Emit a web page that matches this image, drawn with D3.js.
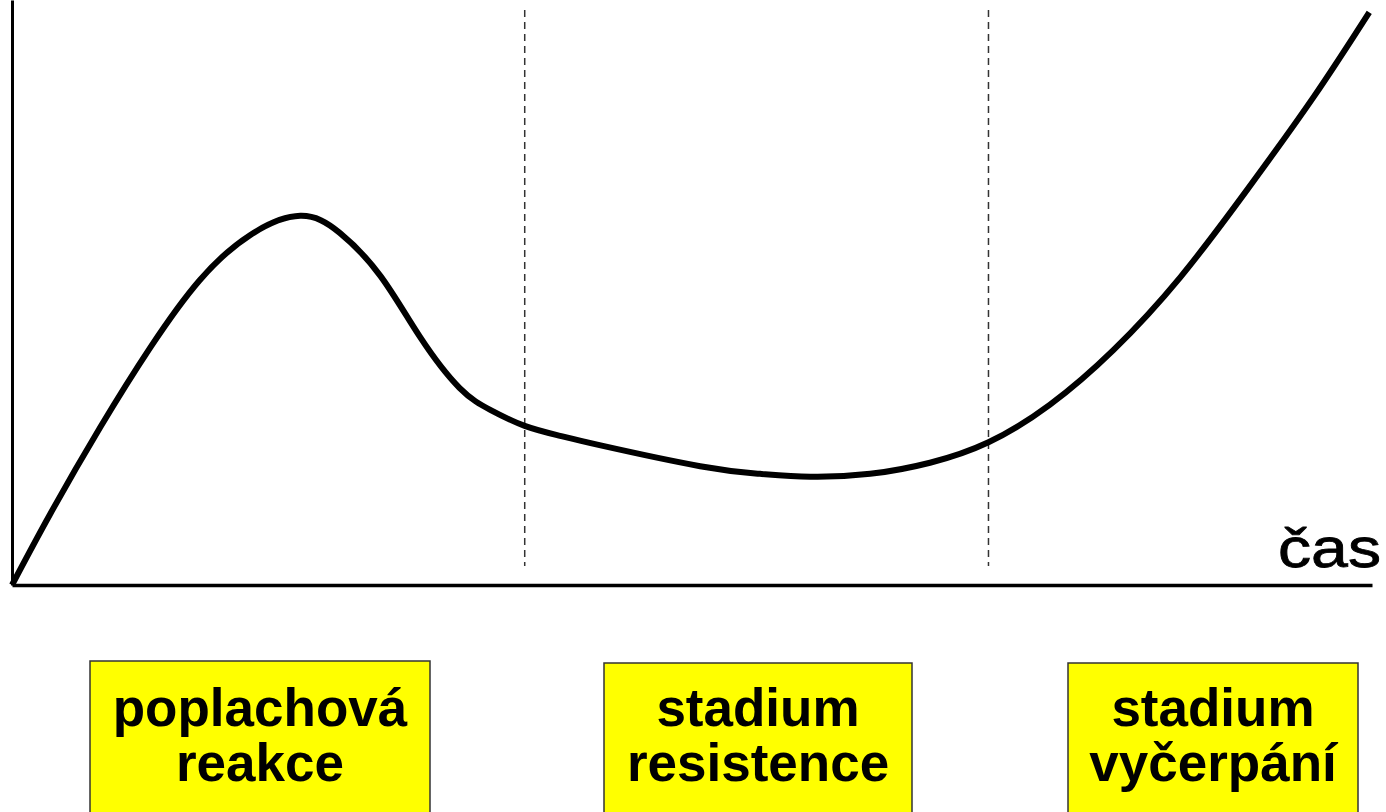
<!DOCTYPE html>
<html>
<head>
<meta charset="utf-8">
<script src="https://d3js.org/d3.v7.min.js"></script>
<style>
  html, body { margin: 0; padding: 0; background: #fff; overflow: hidden; }
  svg { display: block; }
</style>
</head>
<body>
<svg id="chart" width="1386" height="812"></svg>
<script>
// curve samples: time (0-100) and stress level (0-100)
var time  = [0, 2.8, 6.5, 10.2, 13.8, 17.5, 21.2, 24.1, 27.1, 30.0, 32.9, 35.2, 37.7,
             40.3, 43.2, 50.6, 55.0, 58.7, 63.1, 67.5, 71.8, 76.3, 81.0, 85.9, 90.8, 95.7, 99.8];
var level = [0, 12.1, 27.0, 40.7, 52.1, 59.8, 63.1, 60.2, 52.8, 42.4, 33.7, 29.9, 27.2,
             25.5, 23.9, 20.3, 19.0, 18.5, 19.0, 20.9, 24.4, 30.8, 40.2, 52.6, 67.5, 83.4, 97.9];

// phase boundaries (dashed lines)
var boundaries = [37.7, 71.8];

// phase labels, two lines each
var phases = [
  ["poplachová", "reakce"],
  ["stadium", "resistence"],
  ["stadium", "vyčerpání"]
];
var axisLabel = "čas";

var svg = d3.select("#chart");

var x = d3.scaleLinear().domain([0, 100]).range([12, 1372]);
var y = d3.scaleLinear().domain([0, 100]).range([585, 0]);

// axes, no ticks
svg.append("g")
    .attr("transform", "translate(0,585)")
    .call(d3.axisBottom(x).ticks(0).tickSize(0).tickSizeOuter(0))
    .select(".domain").attr("stroke", "#000").attr("stroke-width", 3.5);

svg.append("g")
    .attr("transform", "translate(12,0)")
    .call(d3.axisLeft(y).ticks(0).tickSize(0).tickSizeOuter(0))
    .select(".domain").attr("stroke", "#000").attr("stroke-width", 3);

// dashed phase lines
svg.selectAll(".phase-line")
    .data(boundaries)
  .enter().append("line")
    .attr("class", "phase-line")
    .attr("x1", function(d) { return x(d); })
    .attr("x2", function(d) { return x(d); })
    .attr("y1", 10)
    .attr("y2", 566)
    .attr("stroke", "#333")
    .attr("stroke-width", 1.5)
    .attr("stroke-dasharray", "7,5");

// the curve
var pts = time.map(function(t, i) { return [t, level[i]]; });
var line = d3.line()
    .x(function(d) { return x(d[0]); })
    .y(function(d) { return y(d[1]); })
    .curve(d3.curveNatural);

svg.append("path")
    .datum(pts)
    .attr("d", line)
    .attr("fill", "none")
    .attr("stroke", "#000")
    .attr("stroke-width", 6)
    .attr("stroke-linecap", "butt");

// x axis label
svg.append("text")
    .attr("x", 1278)
    .attr("y", 567)
    .attr("textLength", 103)
    .attr("lengthAdjust", "spacingAndGlyphs")
    .style("font-family", "'Liberation Sans', Arial, sans-serif")
    .style("font-size", "56px")
    .style("stroke", "#000")
    .style("stroke-width", 0.8)
    .text(axisLabel);

// yellow label boxes
var boxes = [
  { x0: 90,   x1: 430,  top: 661 },
  { x0: 604,  x1: 912,  top: 663 },
  { x0: 1068, x1: 1358, top: 663 }
];

var g = svg.selectAll(".phase")
    .data(phases)
  .enter().append("g")
    .attr("class", "phase");

g.append("rect")
    .attr("x", function(d, i) { return boxes[i].x0; })
    .attr("y", function(d, i) { return boxes[i].top; })
    .attr("width", function(d, i) { return boxes[i].x1 - boxes[i].x0; })
    .attr("height", 200)
    .attr("fill", "#ffff00")
    .attr("stroke", "#333")
    .attr("stroke-width", 1.5);

g.each(function(d, i) {
  var cx = (boxes[i].x0 + boxes[i].x1) / 2;
  d3.select(this).selectAll("text")
      .data(d)
    .enter().append("text")
      .attr("x", cx)
      .attr("y", function(t, j) { return 726 + j * 55; })
      .attr("text-anchor", "middle")
      .style("font-family", "'Liberation Sans', Arial, sans-serif")
      .style("font-weight", "bold")
      .style("font-size", "53px")
      .text(function(t) { return t; });
});
</script>
</body>
</html>
